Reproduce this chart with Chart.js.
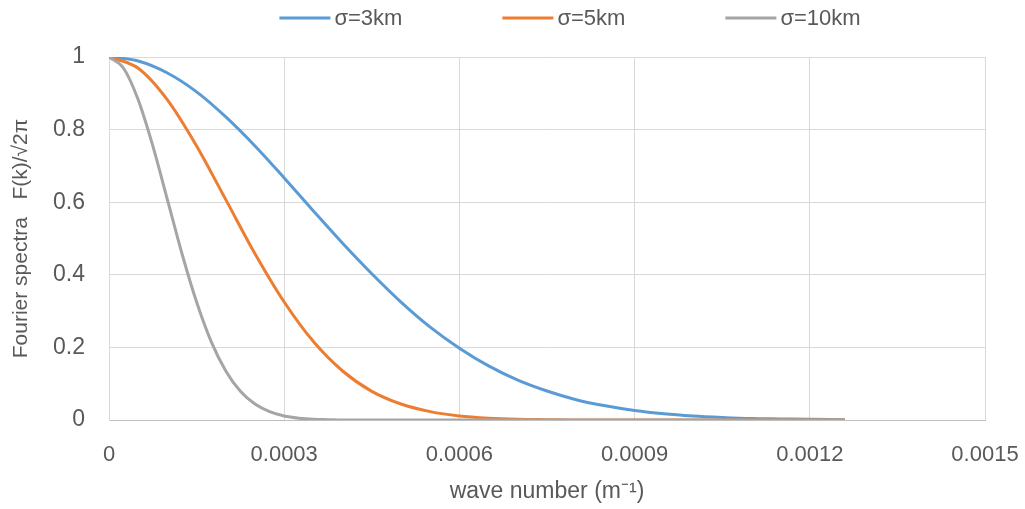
<!DOCTYPE html>
<html>
<head>
<meta charset="utf-8">
<script src="https://cdn.jsdelivr.net/npm/chart.js@4/dist/chart.umd.min.js"></script>
<style>
  html, body { margin: 0; padding: 0; background: #ffffff; overflow: hidden; }
  #wrap { width: 1025px; height: 509px; position: relative; }
</style>
</head>
<body>
<div id="wrap"><canvas id="spectra"></canvas></div>
<script>
// Spectres de Fourier normalisés pour trois largeurs de gaussienne
const seriesNames = ['σ=3km', 'σ=5km', 'σ=10km'];
const seriesColors = ['#5B9BD5', '#ED7D31', '#A5A5A5'];

// sigma = 3 km
const k3 = [0, 0.00005, 0.0001, 0.00015, 0.0002, 0.00025, 0.0003, 0.00035, 0.0004, 0.00045,
            0.0005, 0.00055, 0.0006, 0.00065, 0.0007, 0.00075, 0.0008, 0.00085, 0.0009,
            0.00095, 0.001, 0.00105, 0.0011, 0.00115, 0.0012, 0.00126];
const f3 = [1, 0.989, 0.956, 0.904, 0.835, 0.755, 0.667, 0.576, 0.487, 0.403,
            0.325, 0.256, 0.198, 0.149, 0.110, 0.080, 0.056, 0.039, 0.026,
            0.017, 0.011, 0.007, 0.004, 0.003, 0.002, 0.001];

// sigma = 5 km
const k5 = [0, 0.00005, 0.0001, 0.00015, 0.0002, 0.00025, 0.0003, 0.00035, 0.0004, 0.00045,
            0.0005, 0.00055, 0.0006, 0.00065, 0.0007, 0.00075, 0.0008, 0.0009, 0.001, 0.0011, 0.00126];
const f5 = [1, 0.969, 0.882, 0.755, 0.607, 0.458, 0.325, 0.216, 0.135, 0.079,
            0.044, 0.023, 0.011, 0.005, 0.002, 0.001, 0, 0, 0, 0, 0];

// sigma = 10 km
const k10 = [0, 0.000025, 0.00005, 0.000075, 0.0001, 0.000125, 0.00015, 0.000175, 0.0002,
             0.000225, 0.00025, 0.000275, 0.0003, 0.000325, 0.00035, 0.000375, 0.0004,
             0.0006, 0.0008, 0.001, 0.00126];
const f10 = [1, 0.969, 0.882, 0.755, 0.607, 0.458, 0.325, 0.216, 0.135,
             0.079, 0.044, 0.023, 0.011, 0.005, 0.002, 0.001, 0,
             0, 0, 0, 0];

const xTickLabels = ['0', '0.0003', '0.0006', '0.0009', '0.0012', '0.0015'];
const yTickLabels = ['0', '0.2', '0.4', '0.6', '0.8', '1'];

function toPoints(ks, vals) {
    return ks.map((k, i) => ({ x: k, y: vals[i] }));
}

const allK = [k3, k5, k10];
const allF = [f3, f5, f10];

const FONT = "'Liberation Sans', Arial, sans-serif";
const TEXT = '#595959';

const datasets = seriesNames.map((name, i) => ({
    label: name,
    data: toPoints(allK[i], allF[i]),
    borderColor: seriesColors[i],
    backgroundColor: seriesColors[i],
    borderWidth: 3,
    pointRadius: 0,
    cubicInterpolationMode: 'monotone',
    fill: false,
    // la dernière série passe au-dessus des autres
    order: seriesNames.length - i
}));

// Légende dessinée à la main en haut : trait + libellé, centrée
const topLegend = {
    id: 'topLegend',
    afterDraw(chart) {
        const ctx = chart.ctx;
        const lineW = 51, gap = 4, spacing = 100, y = 18;
        ctx.save();
        ctx.font = '22px ' + FONT;
        const items = chart.data.datasets.map(ds => ({
            ds: ds,
            w: lineW + gap + ctx.measureText(ds.label).width
        }));
        const total = items.reduce((s, it) => s + it.w, 0) + spacing * (items.length - 1);
        let x = 570 - total / 2;
        items.forEach(it => {
            ctx.strokeStyle = it.ds.borderColor;
            ctx.lineWidth = 3;
            ctx.beginPath();
            ctx.moveTo(x, y);
            ctx.lineTo(x + lineW, y);
            ctx.stroke();
            ctx.fillStyle = TEXT;
            ctx.textAlign = 'left';
            ctx.textBaseline = 'middle';
            ctx.fillText(it.ds.label, x + lineW + gap, y + 1);
            x += it.w + spacing;
        });
        ctx.restore();
    }
};

new Chart(document.getElementById('spectra'), {
    type: 'line',
    data: { datasets: datasets },
    plugins: [topLegend],
    options: {
        responsive: true,
        maintainAspectRatio: false,
        animation: false,
        layout: { padding: { left: 0, right: 40, top: 57, bottom: 0 } },
        plugins: {
            tooltip: { enabled: false },
            legend: { display: false }
        },
        scales: {
            x: {
                type: 'linear',
                min: 0,
                max: 0.0015,
                ticks: {
                    stepSize: 0.0003,
                    color: TEXT,
                    font: { family: FONT, size: 22 },
                    padding: 22,
                    maxRotation: 0,
                    callback: (v, i) => xTickLabels[i]
                },
                grid: { color: '#D9D9D9', lineWidth: 1, drawTicks: false },
                border: { color: '#BFBFBF', width: 1 },
                title: {
                    display: true,
                    text: 'wave number (m⁻¹)',
                    color: TEXT,
                    font: { family: FONT, size: 23 },
                    padding: { top: 6, bottom: 4 }
                },
                // le dernier libellé déborde dans la marge droite
                afterFit: s => { s.height = 89; s.paddingLeft = 0; s.paddingRight = 0; }
            },
            y: {
                min: 0,
                max: 1,
                ticks: {
                    stepSize: 0.2,
                    color: TEXT,
                    font: { family: FONT, size: 23 },
                    padding: 24,
                    callback: (v, i) => yTickLabels[i]
                },
                grid: { color: '#D9D9D9', lineWidth: 1, drawTicks: false },
                border: { color: '#D9D9D9', width: 1 },
                title: {
                    display: true,
                    text: 'Fourier spectra   F(k)/√2π',
                    color: TEXT,
                    font: { family: FONT, size: 21 },
                    padding: { top: 9, bottom: 0 }
                },
                afterFit: s => { s.width = 109; }
            }
        }
    }
});
</script>
</body>
</html>
